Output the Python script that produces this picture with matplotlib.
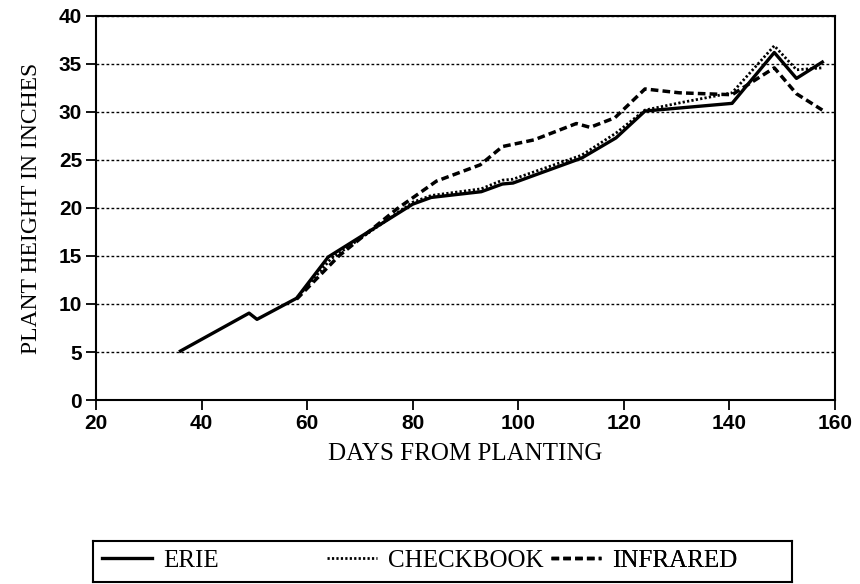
import matplotlib
matplotlib.use('Agg')
import matplotlib.pyplot as plt
from matplotlib.lines import Line2D

# data
erie_days = [36, 49, 50.5, 58, 64, 80, 83.5, 93, 97, 99, 112, 118.5, 124, 140.5, 148.5, 152.7, 157.6]
erie_vals = [5.1, 9.05, 8.4, 10.6, 14.9, 20.4, 21.1, 21.7, 22.5, 22.6, 25.2, 27.3, 30.1, 30.9, 36.2, 33.5, 35.2]

check_days = [58, 64.5, 80, 83.5, 93, 97, 99, 112, 118.5, 124, 131, 140.5, 148.5, 152.7, 157.6]
check_vals = [10.6, 14.7, 20.6, 21.3, 22.0, 22.9, 23.0, 25.5, 27.8, 30.2, 31.0, 32.0, 36.9, 34.4, 34.6]

infra_days = [58, 66, 77, 84.5, 92.8, 97, 103, 111, 113.6, 118.3, 124, 130.5, 140.5, 148.5, 152.7, 157.6]
infra_vals = [10.5, 15.0, 19.9, 22.8, 24.5, 26.4, 27.1, 28.8, 28.4, 29.4, 32.4, 32.0, 31.8, 34.6, 31.9, 30.2]

labels = ['ERIE', 'CHECKBOOK', 'INFRARED']
xticks = [20, 40, 60, 80, 100, 120, 140, 160]
yticks = [0, 5, 10, 15, 20, 25, 30, 35, 40]

serif = 'Liberation Serif'
sans = 'Liberation Sans'

fig = plt.figure(figsize=(8.6, 5.84), dpi=100)
ax = fig.add_axes([96/860, 1-400/584, 739/860, 384/584])

styles = [
  dict(color='black', lw=2.4, ls='-'),
  dict(color='black', lw=2.0, ls=(0, (0.8, 0.8))),
  dict(color='black', lw=2.5, ls=(0, (2.2, 1.2))),
]
ax.plot(erie_days, erie_vals, **styles[0])
ax.plot(check_days, check_vals, **styles[1])
ax.plot(infra_days, infra_vals, **styles[2])

ax.set_xlim(20, 160)
ax.set_ylim(0, 40)
ax.set_xticks(xticks)
ax.set_yticks(yticks)
ax.tick_params(direction='out', length=7, width=1.3, pad=3, labelsize=15)
for t in ax.get_xticklabels() + ax.get_yticklabels():
  t.set_fontfamily(sans)
  t.set_fontweight('bold')
ax.grid(axis='y', color='black', lw=1.0, ls=(0, (2, 1.6)))
for s in ax.spines.values():
  s.set_linewidth(1.5)

ax.set_xlabel('DAYS FROM PLANTING', fontsize=18, family=serif)
ax.xaxis.set_label_coords(0.5, -0.113)
ax.set_ylabel('PLANT HEIGHT IN INCHES', fontsize=17, family=serif)
ax.yaxis.set_label_coords(-0.073, 0.5)

# legend box
lax = fig.add_axes([93/860, 1-582/584, 699/860, 41/584])
lax.set_xticks([])
lax.set_yticks([])
for s in lax.spines.values():
  s.set_linewidth(1.5)
xpos = [0.013, 0.335, 0.655]
for ii in range(3):
  h = Line2D([], [], **styles[ii])
  lg = lax.legend([h], [labels[ii]], loc='center left', bbox_to_anchor=(xpos[ii], 0.53),
                  frameon=False, borderpad=0, borderaxespad=0, handlelength=2.0,
                  handletextpad=0.45, prop={'family': serif, 'size': 18})
  lax.add_artist(lg)

fig.savefig('out.png', dpi=100)
